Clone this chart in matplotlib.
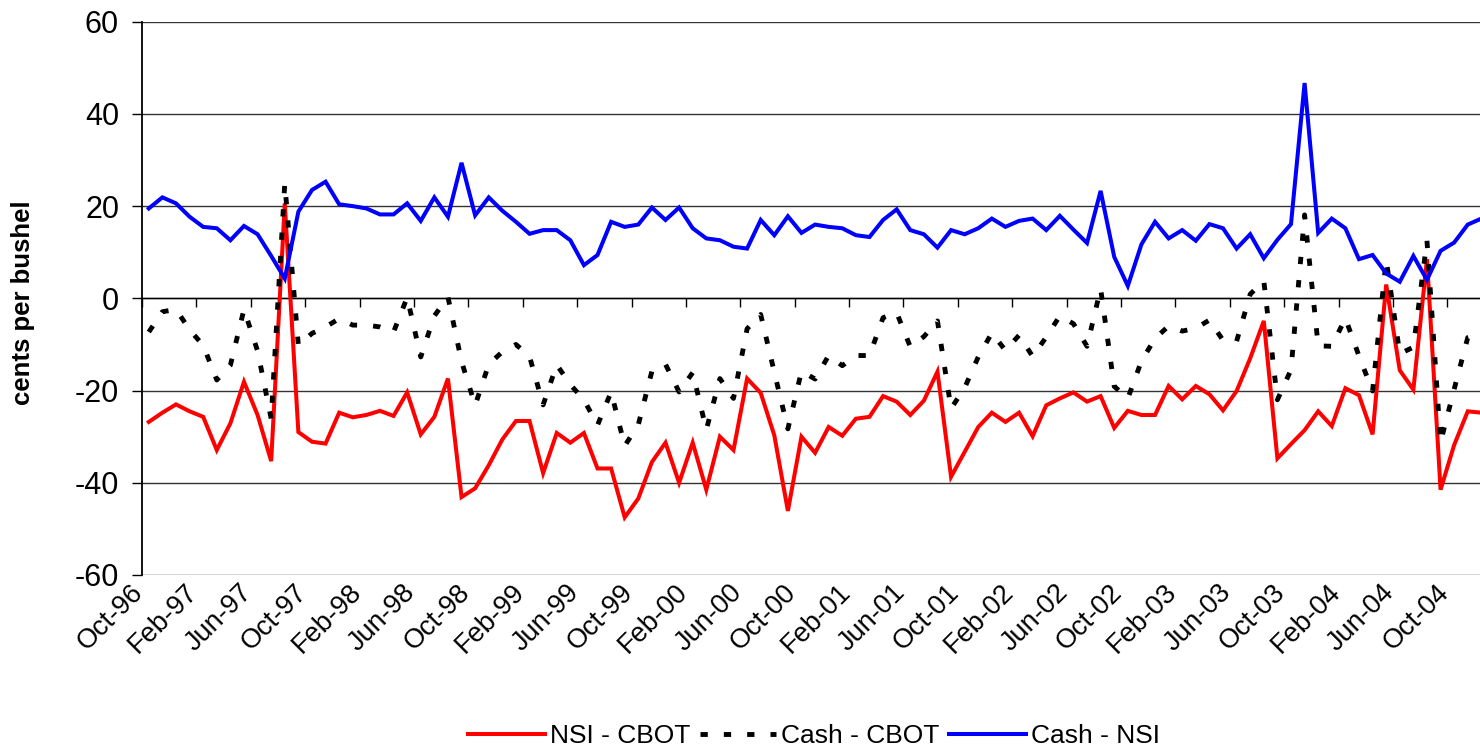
import numpy as np
import pandas as pd
import matplotlib
matplotlib.use("Agg")
import matplotlib.pyplot as plt

plt.rcParams['font.family'] = ['Liberation Sans', 'DejaVu Sans']

# Monthly categories Oct-96 .. Dec-04
months = pd.date_range('1996-10-01', periods=99, freq='MS').strftime('%b-%y').tolist()

nsi_cbot = [-26.8, -24.8, -23.0, -24.5, -25.7, -32.9, -27.1, -18.1, -25.3, -35.3,
            20.6, -29.0, -31.1, -31.5, -24.8, -25.8, -25.3, -24.4, -25.5, -20.4,
            -29.5, -25.7, -17.4, -43.1, -41.2, -36.2, -30.6, -26.6, -26.6, -37.9,
            -29.2, -31.3, -29.2, -36.9, -36.9, -47.5, -43.4, -35.5, -31.3, -40.0,
            -31.3, -41.5, -30.0, -32.9, -17.4, -20.5, -29.7, -46.1, -30.0, -33.5,
            -27.9, -29.8, -26.1, -25.7, -21.2, -22.4, -25.3, -22.2, -15.9, -38.7,
            -33.3, -27.9, -24.8, -26.8, -24.8, -29.9, -23.2, -21.7, -20.4, -22.4,
            -21.2, -28.1, -24.4, -25.3, -25.3, -19.0, -21.9, -19.0, -20.8, -24.3,
            -20.1, -13.0, -4.9, -34.7, -31.6, -28.6, -24.5, -27.7, -19.5, -21.0,
            -29.5, 3.0, -15.6, -19.8, 8.5, -41.5, -31.8, -24.5, -24.8]

cash_cbot = [-7.3, -2.9, -2.4, -6.8, -10.2, -17.7, -14.5, -2.4, -11.4, -26.1,
             24.9, -10.2, -7.6, -6.2, -4.4, -5.8, -5.8, -6.2, -7.3, 0.2,
             -12.7, -3.8, 0.3, -13.7, -23.2, -14.3, -11.6, -10.0, -12.6, -23.1,
             -14.4, -18.7, -22.0, -27.5, -20.3, -32.0, -27.4, -15.8, -14.3, -20.3,
             -16.1, -28.5, -17.4, -21.7, -6.6, -3.5, -16.0, -28.3, -15.8, -17.5,
             -12.4, -14.6, -12.4, -12.4, -4.2, -3.1, -10.5, -8.3, -4.9, -23.9,
             -19.4, -12.7, -7.5, -11.3, -8.0, -12.6, -8.4, -3.8, -5.5, -10.4,
             2.1, -19.1, -21.7, -13.6, -8.7, -6.0, -7.1, -6.5, -4.7, -9.1,
             -9.3, 0.9, 3.8, -22.0, -15.5, 18.1, -10.3, -10.4, -4.3, -12.5,
             -20.1, 8.4, -12.0, -10.6, 12.5, -31.2, -19.7, -8.5, -7.5]

cash_nsi = [19.5, 21.9, 20.6, 17.7, 15.5, 15.2, 12.6, 15.7, 13.9, 9.2,
            4.3, 18.8, 23.5, 25.3, 20.4, 20.0, 19.5, 18.2, 18.2, 20.6,
            16.8, 21.9, 17.7, 29.4, 18.0, 21.9, 19.0, 16.6, 14.0, 14.8,
            14.8, 12.6, 7.2, 9.4, 16.6, 15.5, 16.0, 19.7, 17.0, 19.7,
            15.2, 13.0, 12.6, 11.2, 10.8, 17.0, 13.7, 17.8, 14.2, 16.0,
            15.5, 15.2, 13.7, 13.3, 17.0, 19.3, 14.8, 13.9, 11.0, 14.8,
            13.9, 15.2, 17.3, 15.5, 16.8, 17.3, 14.8, 17.9, 14.9, 12.0,
            23.3, 9.0, 2.7, 11.7, 16.6, 13.0, 14.8, 12.5, 16.1, 15.2,
            10.8, 13.9, 8.7, 12.7, 16.1, 46.7, 14.2, 17.3, 15.2, 8.5,
            9.4, 5.4, 3.6, 9.2, 4.0, 10.3, 12.1, 16.0, 17.3]

series_names = ['NSI - CBOT', 'Cash - CBOT', 'Cash - NSI']
y_ticks = [-60, -40, -20, 0, 20, 40, 60]

W, H = 1480, 747
fig = plt.figure(figsize=(W / 100, H / 100), dpi=100)
ax = fig.add_axes([142 / W, 1 - 575 / H, (1480 - 142) / W, (575 - 21.7) / H])

x = np.arange(len(months))
ax.plot(x, nsi_cbot, color='#ff0000', lw=2.9, label=series_names[0], zorder=3,
        solid_joinstyle='miter')
ax.plot(x, cash_cbot, color='black', lw=3.5, linestyle=(0, (1.5, 3.3)),
        dash_capstyle='butt', label=series_names[1], zorder=4)
ax.plot(x, cash_nsi, color='#0000ff', lw=2.9, label=series_names[2], zorder=5,
        solid_joinstyle='miter')

ax.set_xlim(-0.5, 97.9)
ax.set_ylim(-60, 60)
ax.set_yticks(y_ticks)
ax.set_yticklabels([str(v) for v in y_ticks], fontsize=22)
ax.tick_params(axis='y', direction='out', length=7.5, width=1.0, pad=9, colors='black')
ax.yaxis.grid(True, color='#333333', lw=1.0)
ax.set_axisbelow(True)

for s in ['top', 'right']:
    ax.spines[s].set_visible(False)
ax.spines['left'].set_linewidth(1.3)
ax.spines['bottom'].set_position(('data', 0))
ax.spines['bottom'].set_linewidth(1.0)

# category boundary ticks on the zero line
ax.set_xticks(np.arange(-0.5, 98, 4))
ax.tick_params(axis='x', direction='out', length=6.5, width=1.0, labelbottom=False)

# category labels at bottom
sec = ax.secondary_xaxis(0.0)
idx = list(range(0, len(months), 4))
sec.set_xticks(idx)
sec.set_xticklabels([months[i] for i in idx], rotation=45, ha='right', va='top',
                    fontsize=19.5, rotation_mode='default')
sec.tick_params(length=0, pad=3)
sec.spines['bottom'].set_visible(False)

fig.text(23 / W, 1 - 303 / H, 'cents per bushel', rotation=90, ha='center',
         va='center', fontsize=18.5, fontweight='bold')

fig.legend(loc='center', bbox_to_anchor=(814 / W, 1 - 736 / H), ncol=3,
           frameon=False, fontsize=19, handlelength=2.9, handletextpad=0.2,
           columnspacing=0.35, borderpad=0)

fig.savefig('out.png', dpi=100)
